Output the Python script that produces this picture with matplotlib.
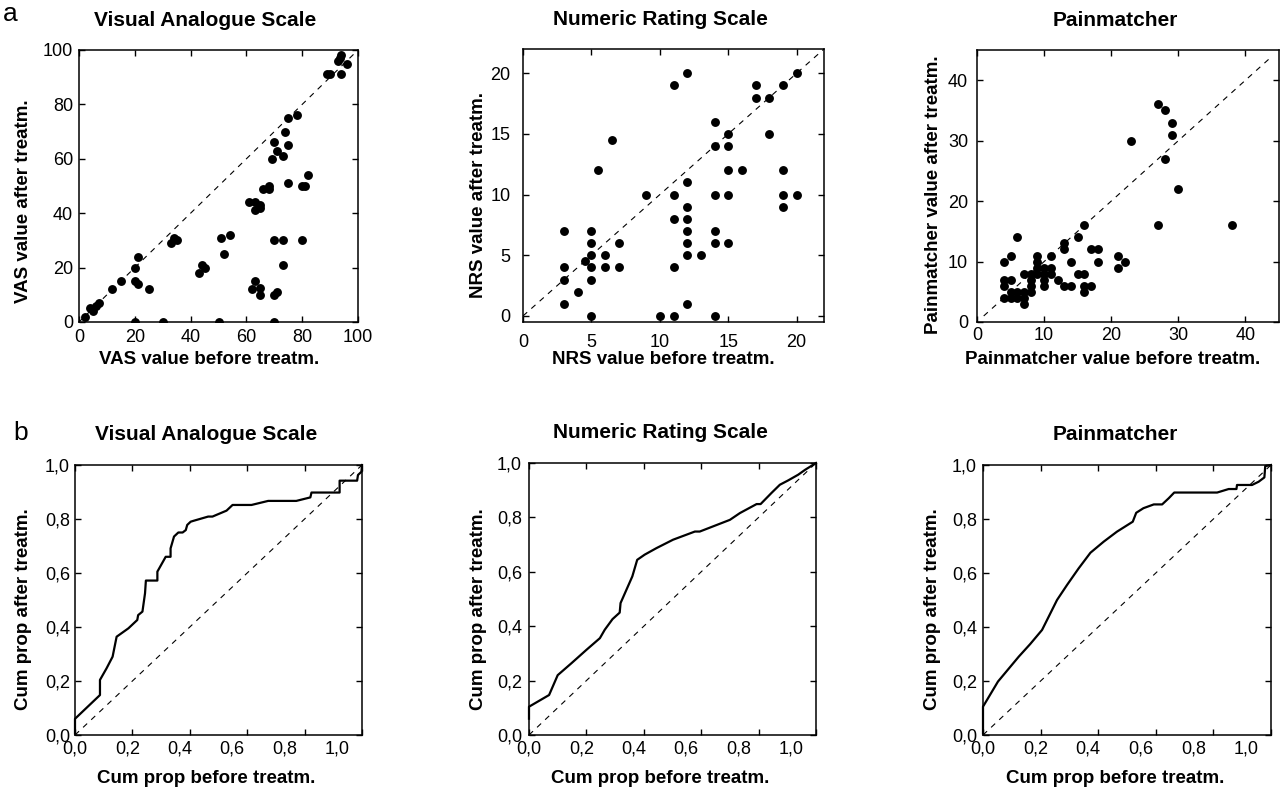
import matplotlib
matplotlib.use("Agg")
import matplotlib.pyplot as plt

plt.rcParams['font.family'] = ['Liberation Sans', 'DejaVu Sans']

# ---- data ----
titles = ["Visual Analogue Scale", "Numeric Rating Scale", "Painmatcher"]

vas_before = [2, 4, 5, 6, 7, 12, 15, 20, 21, 20, 21, 25, 20, 30, 33, 34, 35, 43, 44, 45, 50,
              51, 52, 54, 61, 62, 63, 63, 63, 65, 65, 65, 65, 66, 68, 68, 69, 70, 71, 73, 74,
              75, 75, 78, 70, 73, 80, 70, 71, 70, 73, 75, 80, 81, 82, 89, 90, 93, 94, 93.5, 94, 96]
vas_after = [2, 5, 4, 6, 7, 12, 15, 20, 24, 15, 14, 12, 0, 0, 29, 31, 30, 18, 21, 20, 0,
             31, 25, 32, 44, 12, 44, 41, 15, 43, 42, 12.5, 10, 49, 50, 49, 60, 66, 63, 61, 70,
             75, 65, 76, 30, 30, 30, 10, 11, 0, 21, 51, 50, 50, 54, 91, 91, 96, 98, 97, 91, 95]

nrs_before = [3, 3, 3, 3, 4, 4.5, 5, 5, 5, 5, 5, 5, 5.5, 6, 6, 6.5, 7, 7, 9, 10, 11, 11, 11, 11, 11,
              12, 12, 12, 12, 12, 12, 12, 12, 13, 14, 14, 14, 14, 14, 14, 15, 15, 15, 15, 15, 16,
              17, 17, 18, 18, 19, 19, 19, 19, 20, 20]
nrs_after = [1, 3, 4, 7, 2, 4.5, 0, 3, 4, 5, 6, 7, 12, 5, 4, 14.5, 6, 4, 10, 0, 19, 10, 8, 4, 0,
             20, 11, 9, 8, 7, 6, 5, 1, 5, 16, 14, 10, 7, 6, 0, 15, 14, 12, 10, 6, 12,
             19, 18, 18, 15, 19, 12, 10, 9, 20, 10]

pm_before = [4, 4, 4, 4, 5, 5, 5, 5, 6, 6, 6, 7, 7, 7, 7, 8, 8, 8, 8, 9, 9, 9, 9, 10, 10, 10, 10,
             11, 11, 11, 12, 13, 13, 13, 14, 14, 15, 15, 16, 16, 16, 16, 17, 17, 18, 18, 21, 21,
             22, 23, 27, 27, 28, 28, 29, 29, 30, 38]
pm_after = [10, 7, 6, 4, 11, 7, 5, 4, 14, 4, 5, 5, 4, 3, 8, 8, 7, 6, 5, 11, 10, 9, 8, 9, 8, 7, 6,
            11, 9, 8, 7, 13, 12, 6, 10, 6, 14, 8, 16, 8, 6, 5, 12, 6, 12, 10, 11, 9,
            10, 30, 36, 16, 35, 27, 33, 31, 22, 16]

vas_cdf_x = [0, 0, 0.087, 0.087, 0.11, 0.131, 0.145, 0.186, 0.217, 0.22, 0.235, 0.244, 0.247,
             0.287, 0.287, 0.316, 0.333, 0.333, 0.345, 0.36, 0.375, 0.386, 0.391, 0.403, 0.412,
             0.464, 0.479, 0.528, 0.549, 0.615, 0.673, 0.771, 0.82, 0.824, 0.922,
             0.922, 0.983, 0.986, 0.998, 1.0]
vas_cdf_y = [0.006, 0.06, 0.148, 0.204, 0.247, 0.29, 0.364, 0.395, 0.426, 0.444, 0.457, 0.525, 0.572,
             0.572, 0.605, 0.66, 0.66, 0.691, 0.735, 0.75, 0.75, 0.759, 0.778, 0.79, 0.793,
             0.809, 0.809, 0.831, 0.852, 0.852, 0.867, 0.867, 0.88, 0.898, 0.898,
             0.942, 0.942, 0.963, 0.975, 1.0]

nrs_cdf_x = [0, 0, 0.07, 0.1, 0.148, 0.2, 0.247, 0.264, 0.291, 0.316, 0.319, 0.337, 0.36, 0.377,
             0.403, 0.444, 0.502, 0.578, 0.595, 0.7, 0.735, 0.793, 0.807, 0.845, 0.874, 0.903,
             0.938, 0.962, 1.0]
nrs_cdf_y = [0.06, 0.104, 0.147, 0.22, 0.264, 0.313, 0.356, 0.387, 0.426, 0.45, 0.485, 0.528, 0.583,
             0.644, 0.663, 0.687, 0.718, 0.748, 0.748, 0.791, 0.816, 0.849, 0.849, 0.89, 0.92,
             0.936, 0.957, 0.975, 1.0]

pm_cdf_x = [0, 0, 0.052, 0.124, 0.164, 0.205, 0.228, 0.257, 0.292, 0.332, 0.373, 0.419, 0.465,
            0.52, 0.532, 0.557, 0.593, 0.622, 0.645, 0.664, 0.813, 0.853, 0.88, 0.882, 0.934,
            0.957, 0.977, 0.98, 1.0]
pm_cdf_y = [0.006, 0.105, 0.198, 0.29, 0.337, 0.389, 0.438, 0.5, 0.556, 0.617, 0.675, 0.716, 0.753,
            0.79, 0.823, 0.84, 0.854, 0.854, 0.877, 0.898, 0.898, 0.911, 0.911, 0.926, 0.926,
            0.938, 0.954, 0.996, 1.0]

cum_ticks = [0, 0.2, 0.4, 0.6, 0.8, 1.0]
cum_ticklabels = ["0,0", "0,2", "0,4", "0,6", "0,8", "1,0"]
# in the original the x tick labels are drawn on a slightly compressed scale
# (label "1,0" sits at ~0.913 of the axis width)
label_stretch = 1.095

W, H = 1286, 793
fig = plt.figure(figsize=(W / 100, H / 100), dpi=100)


def add_ax(l, t, r, b):
    return fig.add_axes([l / W, 1 - b / H, (r - l) / W, (b - t) / H])


def style(ax, xpad, ypad):
    for s in ax.spines.values():
        s.set_linewidth(1.1)
    ax.tick_params(direction='in', length=4, width=1, top=True, right=True,
                   labelsize=13)
    ax.tick_params(axis='x', pad=xpad)
    ax.tick_params(axis='y', pad=ypad)


# pixel boxes (left, top, right, bottom)
top_boxes = [(79, 50, 358, 322), (523, 49, 824, 322), (977, 50, 1279, 322)]
bot_boxes = [(75, 465, 362, 735), (529, 463, 816, 735), (983, 465, 1271, 735)]

# ---- row a: scatter plots ----
scat = [
    (vas_before, vas_after, (0, 100), (0, 100), [0, 20, 40, 60, 80, 100], (0, 100),
     "VAS value before treatm.", "VAS value after treatm.", 5, 4.3, (-0.168, 0.445), 0.466),
    (nrs_before, nrs_after, (0, 22), (-0.5, 22), [0, 5, 10, 15, 20], (0, 22),
     "NRS value before treatm.", "NRS value after treatm.", 8.5, 9, (-0.120, 0.465), 0.467),
    (pm_before, pm_after, (0, 45), (0, 45), [0, 10, 20, 30, 40], (1, 44),
     "Painmatcher value before treatm.", "Painmatcher value after treatm.", 3.6, 6.5,
     (-0.116, 0.467), 0.45),
]
for box, title, (xb, ya, xl, yl, ticks, diag, xlab, ylab, xpad, ypad, ylc, xlc) in zip(top_boxes, titles, scat):
    ax = add_ax(*box)
    ax.plot(diag, diag, color='black', lw=0.8, ls=(0, (5, 5)))
    ax.plot(xb, ya, 'o', color='black', ms=6.4, mec='none')
    ax.set_xlim(*xl)
    ax.set_ylim(*yl)
    ax.set_xticks(ticks)
    ax.set_yticks(ticks)
    style(ax, xpad, ypad)
    wpx = box[2] - box[0]
    ax.set_title(title, fontsize=15, fontweight='bold', pad=17, x=0.5 - 13 / wpx)
    ax.set_xlabel(xlab, fontsize=13.5, fontweight='bold')
    ax.set_ylabel(ylab, fontsize=13.5, fontweight='bold')
    ax.xaxis.set_label_coords(xlc, -0.107)
    ax.yaxis.set_label_coords(*ylc)

# ---- row b: cumulative proportion curves ----
curves = [(vas_cdf_x, vas_cdf_y, -0.150, 0.467, 0.458),
          (nrs_cdf_x, nrs_cdf_y, -0.146, 0.463, 0.456),
          (pm_cdf_x, pm_cdf_y, -0.146, 0.467, 0.458)]
ypads = [3.6, 5, 4.3]
for box, title, (cx, cy, ylx, yly, xlx), ypad in zip(bot_boxes, titles, curves, ypads):
    ax = add_ax(*box)
    ax.plot([0, 1], [0, 1], color='black', lw=0.8, ls=(0, (5, 5)))
    ax.plot(cx, cy, color='black', lw=1.6, clip_on=False)
    ax.set_xlim(0, 1)
    ax.set_ylim(0, 1)
    ax.xaxis.remove_overlapping_locs = False
    ax.set_xticks(cum_ticks)
    ax.set_xticklabels([])
    ax.set_xticks([t / label_stretch for t in cum_ticks], cum_ticklabels, minor=True)
    ax.set_yticks(cum_ticks)
    ax.set_yticklabels(cum_ticklabels)
    style(ax, 4, ypad)
    ax.tick_params(axis='x', which='minor', length=0, pad=4, labelsize=13)
    wpx = box[2] - box[0]
    ax.set_title(title, fontsize=15, fontweight='bold', pad=18, x=0.5 - 12 / wpx)
    ax.set_xlabel("Cum prop before treatm.", fontsize=13.5, fontweight='bold')
    ax.set_ylabel("Cum prop after treatm.", fontsize=13.5, fontweight='bold')
    ax.xaxis.set_label_coords(xlx, -0.13)
    ax.yaxis.set_label_coords(ylx, yly)

fig.text(3 / W, 1 - 21 / H, "a", fontsize=19)
fig.text(13 / W, 1 - 440 / H, "b", fontsize=19)

fig.savefig("out.png", dpi=100)
